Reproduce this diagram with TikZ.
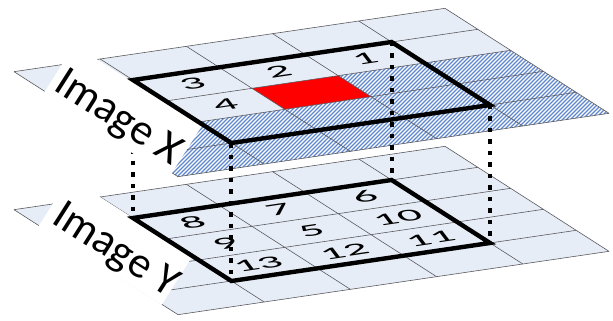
\documentclass[tikz,border=0pt]{standalone}
\usepackage{fontspec}
\setmainfont{Carlito}
\definecolor{planefill}{RGB}{231,237,246}
\definecolor{gridc}{RGB}{90,90,95}
\definecolor{hatchc}{RGB}{95,135,205}
\begin{document}
\begin{tikzpicture}[x=1pt,y=1pt,
  gridline/.style={draw=gridc, line width=0.6pt},
  thickbox/.style={draw=black, line width=4.4pt},
  dotline/.style={draw=black, line width=4pt, dash pattern=on 4.5pt off 7pt},
  digit/.style={font=\fontsize{22}{22}\selectfont, inner sep=0pt, cm={2.1,0.31,-0.55,0.72,(0,0)}},
  labeltext/.style={font=\fontsize{44}{44}\selectfont, inner sep=0pt, anchor=base west, rotate=-32.5}
]
\useasboundingbox (0,0) rectangle (613,-321);

% ---------- lower plane (Image Y)
\begin{scope}[shift={(133,-218)}, x={(86.2pt,12.67pt)}, y={(32.8pt,-21pt)}]
  \fill[planefill] (-1,-1) -- (4,-1) -- (4,4) -- (-1,4) -- cycle;
  \foreach \k in {-1,...,4} {
    \draw[gridline] (\k,-1) -- (\k,4);
    \draw[gridline] (-1,\k) -- (4,\k);
  }
  \coordinate (YA) at (0,0);
  \coordinate (YB) at (3,0);
  \coordinate (YC) at (3,3);
  \coordinate (YD) at (0,3);
  \node[digit] (n8) at (0.5,0.5) {8};
  \node[digit] (n7) at (1.5,0.5) {7};
  \node[digit] (n6) at (2.5,0.5) {6};
  \node[digit] (n9) at (0.5,1.5) {9};
  \node[digit] (n5) at (1.5,1.5) {5};
  \node[digit] (n10) at (2.5,1.5) {10};
  \node[digit] (n13) at (0.5,2.5) {13};
  \node[digit] (n12) at (1.5,2.5) {12};
  \node[digit] (n11) at (2.5,2.5) {11};
\end{scope}

% ---------- upper plane (Image X)
\begin{scope}[shift={(133,-80)}, x={(86.2pt,12.67pt)}, y={(32.8pt,-21pt)}]
  \fill[planefill] (-1,-1) -- (4,-1) -- (4,4) -- (-1,4) -- cycle;
  \coordinate (h1) at (-1,2);
  \coordinate (h2) at (2,2);
  \coordinate (h3) at (2,1);
  \coordinate (h4) at (4,1);
  \coordinate (h5) at (4,4);
  \coordinate (h6) at (-1,4);
  \coordinate (XA) at (0,0);
  \coordinate (XB) at (3,0);
  \coordinate (XC) at (3,3);
  \coordinate (XD) at (0,3);
  \coordinate (r1) at (1,1);
  \coordinate (r2) at (2,1);
  \coordinate (r3) at (2,2);
  \coordinate (r4) at (1,2);
\end{scope}
\fill[white] (h1) -- (h2) -- (h3) -- (h4) -- (h5) -- (h6) -- cycle;
\begin{scope}
  \clip (h1) -- (h2) -- (h3) -- (h4) -- (h5) -- (h6) -- cycle;
  \foreach \k in {150,154,...,850} {
    \draw[hatchc, line width=1.1pt] (\k-250,-250) -- (\k,0);
  }
\end{scope}
\fill[red] (r1) -- (r2) -- (r3) -- (r4) -- cycle;
\begin{scope}[shift={(133,-80)}, x={(86.2pt,12.67pt)}, y={(32.8pt,-21pt)}]
  \foreach \k in {-1,...,4} {
    \draw[gridline] (\k,-1) -- (\k,4);
    \draw[gridline] (-1,\k) -- (4,\k);
  }
  \node[digit] (n3) at (0.5,0.5) {3};
  \node[digit] (n2) at (1.5,0.5) {2};
  \node[digit] (n1) at (2.5,0.5) {1};
  \node[digit] (n4) at (0.5,1.5) {4};
\end{scope}

% ---------- dotted connectors
\draw[dotline] (XA) -- (YA);
\draw[dotline] (XB) -- (YB);
\draw[dotline] (XC) -- (YC);
\draw[dotline] (XD) -- (YD);

% ---------- labels
\fill[white] (74.4,-45.0) -- (201.7,-126.1) -- (169.5,-176.7) -- (42.2,-95.6) -- cycle;
\node[labeltext] (lx) at (52,-89) {Image X};
\fill[white] (69.5,-177.6) -- (192.6,-256) -- (161.5,-304.9) -- (38.4,-226.5) -- cycle;
\node[labeltext] (ly) at (50,-222) {Image Y};

% ---------- thick windows
\draw[thickbox] (XA) -- (XB) -- (XC) -- (XD) -- cycle;
\draw[thickbox] (YA) -- (YB) -- (YC) -- (YD) -- cycle;
\end{tikzpicture}
\end{document}
